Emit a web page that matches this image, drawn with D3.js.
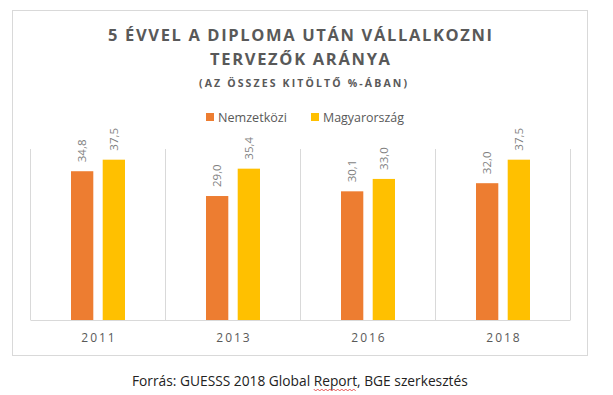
<!DOCTYPE html>
<html>
<head>
<meta charset="utf-8">
<script src="https://cdn.jsdelivr.net/npm/d3@7"></script>
<style>
  body{margin:0;background:#fff;}
  svg{display:block;font-family:"Open Sans",sans-serif;}
</style>
</head>
<body>
<svg id="chart" width="613" height="395"></svg>
<script>
/* data */
var years=['2011','2013','2016','2018'];
var seriesNames=['Nemzetközi','Magyarország'];
var nemzetkozi=[34.8,29.0,30.1,32.0];
var magyar=[37.5,35.4,33.0,37.5];
var colors=['#ED7D31','#FFC000'];

var svg=d3.select('#chart');
var PL=30.5, PR=570.5, PT=149, PB=320;

/* fit a text element to a target width by scaling font size */
function fitW(sel,w){
  var cur=sel.node().getComputedTextLength();
  var fs=parseFloat(sel.attr('font-size'));
  sel.attr('font-size',(fs*w/cur).toFixed(2)+'px');
}

/* outer frame */
svg.append('rect').attr('x',12.5).attr('y',10.5).attr('width',575).attr('height',345)
  .attr('fill','#fff').attr('stroke','#d9d9d9');

/* titles */
svg.append('text').attr('x',300).attr('y',41).attr('text-anchor','middle')
  .attr('font-size','16.5px').attr('font-weight',700).attr('fill','#595959')
  .attr('textLength',384).attr('lengthAdjust','spacing')
  .text('5 ÉVVEL A DIPLOMA UTÁN VÁLLALKOZNI');
svg.append('text').attr('x',300).attr('y',65).attr('text-anchor','middle')
  .attr('font-size','16.5px').attr('font-weight',700).attr('fill','#595959')
  .attr('textLength',180).attr('lengthAdjust','spacing')
  .text('TERVEZŐK ARÁNYA');
svg.append('text').attr('x',303).attr('y',87).attr('text-anchor','middle')
  .attr('font-size','10.5px').attr('font-weight',700).attr('fill','#595959')
  .attr('textLength',208).attr('lengthAdjust','spacing')
  .text('(AZ ÖSSZES KITÖLTŐ %-ÁBAN)');

/* legend */
var legX=[206,311], legW=[69,81];
seriesNames.forEach(function(n,i){
  svg.append('rect').attr('x',legX[i]).attr('y',113).attr('width',8).attr('height',8).attr('fill',colors[i]);
  var t=svg.append('text').attr('x',legX[i]+12).attr('y',121.5)
    .attr('font-size','12px').attr('fill','#595959').text(n);
  fitW(t,legW[i]);
});

/* scales */
var x0=d3.scaleBand().domain(years).range([PL,PR]).paddingInner(0).paddingOuter(0);
var x1=d3.scaleBand().domain(seriesNames).range([40.5,94.5]).paddingInner(16/54);
var y=d3.scaleLinear().domain([0,40]).range([PB,PT]);

/* vertical category gridlines */
var gl=years.map(function(d){return x0(d)}).concat([PR]);
gl.forEach(function(gx){
  svg.append('line').attr('x1',gx).attr('x2',gx).attr('y1',PT).attr('y2',PB)
    .attr('stroke','#d9d9d9').attr('stroke-width',1);
});

/* bars + labels */
[nemzetkozi,magyar].forEach(function(vals,si){
  years.forEach(function(yr,i){
    var bx=x0(yr)+x1(seriesNames[si]);
    var bw=x1.bandwidth();
    svg.append('rect').attr('x',bx).attr('y',y(vals[i])).attr('width',bw)
      .attr('height',PB-y(vals[i])).attr('fill',colors[si]);
    svg.append('text')
      .attr('transform','translate('+(bx+bw/2)+','+(y(vals[i])-9)+') rotate(-90)')
      .attr('dy','0.35em').attr('font-size','11.5px').attr('fill','#7f7f7f')
      .text(vals[i].toFixed(1).replace('.',','));
  });
});

/* x axis line */
svg.append('line').attr('x1',PL).attr('x2',PR).attr('y1',PB+0.5).attr('y2',PB+0.5)
  .attr('stroke','#d9d9d9');

/* year labels */
years.forEach(function(yr){
  svg.append('text').attr('x',x0(yr)+x0.bandwidth()/2+1).attr('y',342)
    .attr('text-anchor','middle').attr('font-size','12px').attr('fill','#595959')
    .attr('letter-spacing','2px').text(yr);
});

/* source line, with the spell-check squiggle under "Report" */
var src=svg.append('text').attr('x',132).attr('y',386)
  .attr('font-size','13px').attr('fill','#222');
src.text('Forrás: GUESSS 2018 Global Report, BGE szerkesztés');
fitW(src,336);
var node=src.node();
var full=src.text(), ri=full.indexOf('Report');
var rx=132+node.getSubStringLength(0,ri), rw=node.getSubStringLength(ri,6);
svg.append('path').attr('d','M'+rx+',389'+d3.range(0,Math.floor(rw/2)).map(function(j){
  return ' L'+(rx+j*2+2)+','+(j%2===0?391:389);
}).join('')).attr('fill','none').attr('stroke','#e03030').attr('stroke-width',0.8);
</script>
</body>
</html>
